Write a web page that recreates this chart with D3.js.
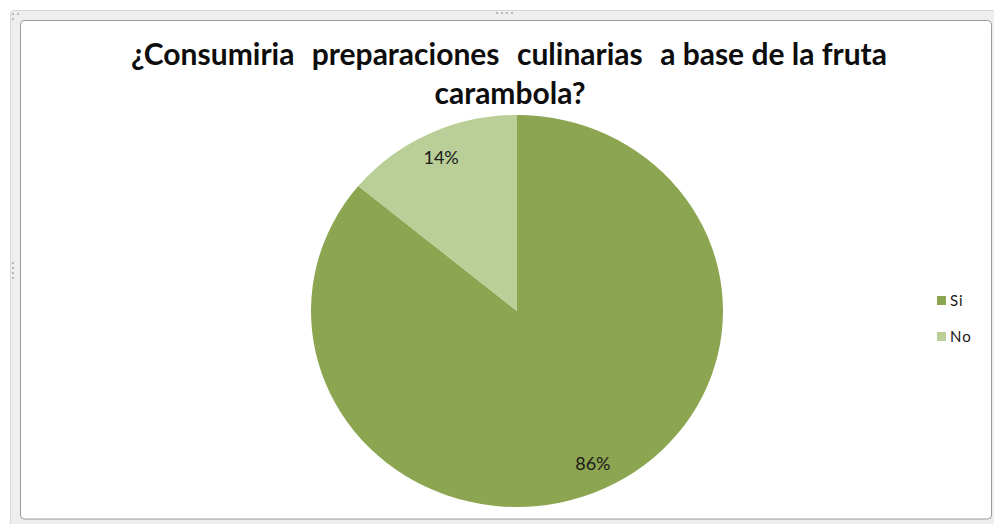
<!DOCTYPE html>
<html>
<head>
<meta charset="utf-8">
<script src="https://cdn.jsdelivr.net/npm/d3@7/dist/d3.min.js"></script>
<style>
  html, body { margin: 0; padding: 0; background: #ffffff; }
  svg { display: block; }
</style>
</head>
<body>
<svg id="chart" width="994" height="524"></svg>
<script>
// Survey answers
const categories = ["Si", "No"];
const values = [86, 14];
const colors = ["#8ba551", "#b9cf97"];
const titleLines = ["¿Consumiria preparaciones culinarias a base de la fruta", "carambola?"];

const W = 994, H = 524;
const svg = d3.select("#chart");
const font = "Lato, 'Open Sans', sans-serif";

// Chart frame (selected chart object look)
svg.append("rect")
  .attr("x", 10.5).attr("y", 10.5).attr("width", W).attr("height", H - 3)
  .attr("rx", 3)
  .attr("fill", "#eeeeee").attr("stroke", "#d6d6d6");
svg.append("rect")
  .attr("x", 20.5).attr("y", 20.5).attr("width", 971).attr("height", 498.5)
  .attr("rx", 4)
  .attr("fill", "#ffffff").attr("stroke", "#9a9a9a").attr("stroke-width", 1);

// sizing handles
const handle = svg.append("g").attr("fill", "#b8b8b8");
[496, 501, 506, 511].forEach(x => handle.append("rect").attr("x", x).attr("y", 12).attr("width", 2).attr("height", 2));
[262, 267, 272, 277].forEach(y => handle.append("rect").attr("x", 12).attr("y", y).attr("width", 2).attr("height", 2));
[[12,13],[17,13],[12,18]].forEach(([x,y]) => handle.append("rect").attr("x", x).attr("y", y).attr("width", 2).attr("height", 2));

// Title: first line stretched to the title width, extra space in the first gaps
const title = svg.append("g")
  .attr("font-family", font).attr("font-weight", "bold")
  .attr("font-size", 30).attr("fill", "#0d0d0d");
const words = titleLines[0].split(" ");
const t1 = title.append("text").attr("x", 131).attr("y", 65);
const spans = words.map((w, i) => t1.append("tspan").text(i < words.length - 1 ? w + " " : w));
const natural = t1.node().getComputedTextLength();
const extra = Math.max(0, (756 - natural) / 3);
[1, 2, 3].forEach(i => spans[i].attr("dx", extra));
title.append("text").attr("x", 510).attr("y", 104).attr("text-anchor", "middle").text(titleLines[1]);

// Pie
const cx = 517, cy = 311, ry = 196, rx = 206;
const pie = d3.pie().sort(null).value(d => d.v);
const arcs = pie(categories.map((c, i) => ({ c, v: values[i], col: colors[i] })));
const arc = d3.arc().innerRadius(0).outerRadius(ry);
const g = svg.append("g").attr("transform", `translate(${cx},${cy}) scale(${rx / ry},1)`);
g.selectAll("path").data(arcs).join("path")
  .attr("d", arc)
  .attr("fill", d => d.data.col);

// Percentage labels
const labelArc = d3.arc().innerRadius(ry * 0.865).outerRadius(ry * 0.865);
const total = d3.sum(values);
svg.append("g")
  .attr("font-family", font).attr("font-size", 18).attr("fill", "#1a1a1a")
  .attr("text-anchor", "middle")
  .selectAll("text").data(arcs).join("text")
  .attr("x", d => cx + labelArc.centroid(d)[0] * rx / ry)
  .attr("y", d => cy + labelArc.centroid(d)[1] + 6)
  .text(d => Math.round(d.data.v / total * 100) + "%");

// Legend
const legend = svg.append("g").attr("font-family", font).attr("font-size", 15).attr("fill", "#1a1a1a");
categories.forEach((c, i) => {
  const y = 296 + i * 36;
  legend.append("rect").attr("x", 937).attr("y", y).attr("width", 9).attr("height", 9).attr("fill", colors[i]);
  legend.append("text").attr("x", 950).attr("y", y + 10).attr("letter-spacing", 1).text(c);
});
</script>
</body>
</html>
